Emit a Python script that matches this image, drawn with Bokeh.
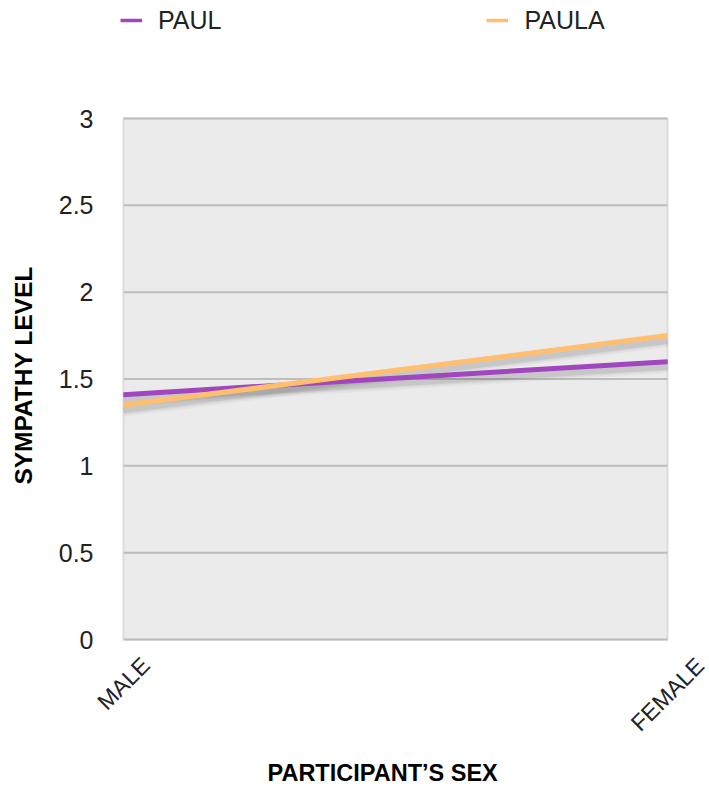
import math
from bokeh.plotting import figure
from bokeh.models import FixedTicker, Legend, LegendItem, Range1d, Label, Title
from bokeh.embed import file_html
from bokeh.resources import INLINE

categories = ["MALE", "FEMALE"]
x_pos = [0, 1]
paul = [1.41, 1.60]
paula = [1.35, 1.75]
y_ticks = [0, 0.5, 1, 1.5, 2, 2.5, 3]
y_tick_labels = {0: "0", 0.5: "0.5", 1: "1", 1.5: "1.5", 2: "2", 2.5: "2.5", 3: "3"}

FONT = "Liberation Sans"
PAUL_COLOR = "#a046be"
PAULA_COLOR = "#ffbf6e"

# ---- layout (pixels) ----
W, H = 709, 793
AREA_L, AREA_R, AREA_T, AREA_B = 123, 667, 118, 639   # grey plotting area
FRAME_L, FRAME_B = 93, 750                              # drawing frame is larger than the area
px_x = (AREA_R - AREA_L) / (x_pos[-1] - x_pos[0])
px_y = (AREA_B - AREA_T) / (y_ticks[-1] - y_ticks[0])

x_range = Range1d(x_pos[0] - (AREA_L - FRAME_L) / px_x, x_pos[-1] + (W - AREA_R) / px_x)
y_range = Range1d(y_ticks[0] - (FRAME_B - AREA_B) / px_y, y_ticks[-1] + AREA_T / px_y)

p = figure(width=W, height=H, output_backend="svg", toolbar_location=None,
           x_range=x_range, y_range=y_range,
           min_border_left=FRAME_L, min_border_right=0, min_border_top=0,
           min_border_bottom=H - FRAME_B)
p.background_fill_color = "white"
p.border_fill_color = "white"
p.outline_line_color = None
p.xgrid.visible = False
p.ygrid.visible = False
p.xaxis.visible = False

# grey plotting area and horizontal grid lines
p.quad(left=x_pos[0], right=x_pos[-1], bottom=y_ticks[0], top=y_ticks[-1],
       fill_color="#ebebeb", line_color="#dcdcdc", line_width=2)
p.segment(x0=[x_pos[0]] * len(y_ticks), x1=[x_pos[-1]] * len(y_ticks),
          y0=y_ticks, y1=y_ticks, line_color="#bdbdbd", line_width=2)

# y axis
p.yaxis.ticker = FixedTicker(ticks=y_ticks)
p.yaxis.bounds = (y_ticks[0], y_ticks[-1])
p.yaxis.major_label_overrides = y_tick_labels
p.yaxis.axis_line_color = None
p.yaxis.major_tick_line_color = None
p.yaxis.minor_tick_line_color = None
p.yaxis.major_tick_out = 0
p.yaxis.major_tick_in = 0
p.yaxis.major_label_text_font = FONT
p.yaxis.major_label_text_font_size = "25px"
p.yaxis.major_label_text_color = "#222222"
p.yaxis.major_label_standoff = 0
p.yaxis.axis_label = "SYMPATHY LEVEL"
p.yaxis.axis_label_text_font = FONT
p.yaxis.axis_label_text_font_style = "bold"
p.yaxis.axis_label_text_font_size = "24.5px"
p.yaxis.axis_label_text_color = "black"
p.yaxis.axis_label_standoff = 19

# x category labels, rotated 45 degrees and centred under each category
CHAR_W, CAP_H, TOP_GAP = 15.5, 17, 16
for xv, cat in zip(x_pos, categories):
    drop = TOP_GAP + 0.3536 * (len(cat) * CHAR_W + CAP_H)
    p.add_layout(Label(x=xv, y=y_ticks[0], text=cat, x_offset=0, y_offset=-drop,
                       angle=math.pi / 4, text_align="center", text_baseline="middle",
                       text_font=FONT, text_font_size="23px", text_color="#222222"))

# x axis title
p.add_layout(Title(text="PARTICIPANT\u2019S SEX", align="left", offset=AREA_L - FRAME_L + 144,
                   text_font=FONT, text_font_style="bold", text_font_size="23.5px",
                   text_color="black", standoff=15), "below")

# soft drop shadows (derived from the series values)
shadow_off = 0.03
for series in (paul, paula):
    ys = [v - shadow_off for v in series]
    for w, a in ((13, 0.03), (9, 0.05), (6, 0.07)):
        p.line(x_pos, ys, line_color="black", line_alpha=a, line_width=w)

# legend swatches (thinner lines, hidden underneath the plotted lines)
lg_paul = p.line(x_pos, paul, line_color=PAUL_COLOR, line_width=3.5)
lg_paula = p.line(x_pos, paula, line_color=PAULA_COLOR, line_width=3.5)

p.line(x_pos, paul, line_color=PAUL_COLOR, line_width=5)
p.line(x_pos, paula, line_color=PAULA_COLOR, line_width=5)

legend = Legend(items=[LegendItem(label="PAUL", renderers=[lg_paul]),
                       LegendItem(label="PAULA", renderers=[lg_paula])],
                orientation="horizontal", location=(120 - FRAME_L, FRAME_B - 35),
                spacing=265, padding=0, margin=0,
                glyph_width=22, glyph_height=30, label_height=30, label_standoff=16,
                label_text_font=FONT, label_text_font_size="25px",
                label_text_color="#222222",
                background_fill_alpha=0, border_line_color=None)
p.add_layout(legend, "center")

open("out.html", "w").write(file_html(p, INLINE))
